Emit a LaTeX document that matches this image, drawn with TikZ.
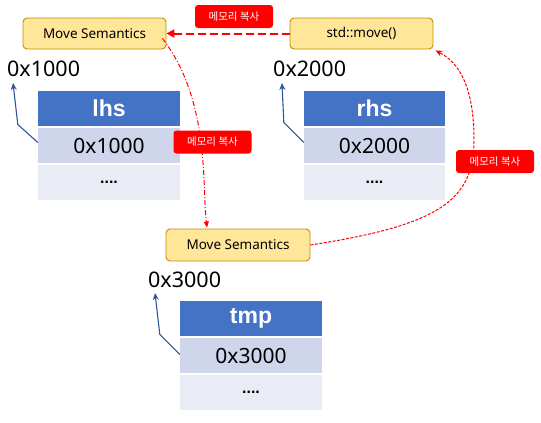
\documentclass[tikz,border=0pt]{standalone}
\usepackage{fontspec}
\setmainfont{Noto Sans}
\newfontfamily\kr{Noto Sans CJK KR}
\newfontfamily\hfont{Liberation Sans}
\usetikzlibrary{arrows.meta}
\definecolor{hdr}{HTML}{4472C4}
\definecolor{rowa}{HTML}{CFD5EA}
\definecolor{rowb}{HTML}{E9EBF5}
\definecolor{ylw}{HTML}{FFE699}
\definecolor{gold}{HTML}{BF9000}
\definecolor{ptrblue}{HTML}{2F5597}
\definecolor{myred}{HTML}{FF0000}
\tikzset{
  semb/.style={draw=gold, fill=ylw, line width=0.9pt, rounded corners=4pt,
    minimum width=143pt, minimum height=31pt, inner sep=0pt, font=\fontsize{13.5}{15}\selectfont},
  redlbl/.style={fill=myred, rounded corners=3pt, minimum width=78pt, minimum height=23pt,
    inner sep=0pt, text=white, font=\kr\fontsize{10.5}{12}\selectfont},
  hdrcell/.style={fill=hdr, minimum width=142pt, minimum height=35pt, inner sep=0pt,
    text=white, font=\hfont\bfseries\fontsize{23}{27}\selectfont},
  cella/.style={fill=rowa, minimum width=142pt, minimum height=35pt, inner sep=0pt,
    font=\fontsize{21}{25}\selectfont},
  cellb/.style={fill=rowb, minimum width=142pt, minimum height=35pt, inner sep=0pt,
    font=\hfont\bfseries\fontsize{16}{20}\selectfont},
  addr/.style={inner sep=0pt, anchor=base west, font=\fontsize{21.5}{25}\selectfont},
  ptr/.style={draw=ptrblue, line width=1.1pt, -{Stealth[length=7pt,width=6pt]}},
  copyline/.style={draw=red, fill=red, line width=2pt, dash pattern=on 8pt off 4pt,
    -{Triangle[length=8pt,width=8pt,fill=red]}},
  curvea/.style={draw=red, line width=1pt, dash pattern=on 5pt off 2pt on 1pt off 2pt,
    -{Triangle[length=6pt,width=5pt]}},
  curveb/.style={draw=red, line width=1pt, dash pattern=on 3pt off 1.5pt,
    -{Stealth[length=7pt,width=6pt]}}
}
\begin{document}
\begin{tikzpicture}[x=1pt,y=-1pt]
\useasboundingbox (0,0) rectangle (541,423);
% move semantics boxes
\node[semb] (msA) at (94.5,33.5) {Move Semantics};
\node[semb] (mv) at (361.5,33.5) {std::move()};
\node[semb, minimum width=144pt, minimum height=32pt] (msB) at (238,245) {Move Semantics};
% lhs
\node[addr] (a1) at (7,76) {0x1000};
\node[hdrcell] (l1) at (109,108.5) {lhs};
\node[cella] (l2) at (109,145.5) {0x1000};
\node[cellb] (l3) at (109,182.5) {....};
% rhs
\node[addr] (a2) at (273,76) {0x2000};
\node[hdrcell, minimum width=141pt] (r1) at (374.5,108.5) {rhs};
\node[cella, minimum width=141pt] (r2) at (374.5,145.5) {0x2000};
\node[cellb, minimum width=141pt] (r3) at (374.5,182.5) {....};
% tmp
\node[addr] (a3) at (148,287) {0x3000};
\node[hdrcell] (t1) at (251,318.5) {tmp};
\node[cella] (t2) at (251,355.5) {0x3000};
\node[cellb] (t3) at (251,392.5) {....};
% pointer arrows
\draw[ptr] ([yshift=3pt]l2.west) -- ++(-20,-18) -- ([xshift=6pt,yshift=-7pt]a1.base west);
\draw[ptr] ([yshift=3pt]r2.west) -- ++(-20,-20) -- ([xshift=9pt,yshift=-7pt]a2.base west);
\draw[ptr] ([yshift=1pt]t2.west) -- ++(-20,-20) -- ([xshift=7pt,yshift=-6pt]a3.base west);
% copy arrows
\draw[copyline] (mv.west) -- (msA.east);
\coordinate (cA) at ([xshift=-4pt,yshift=-5pt]msA.east);
\coordinate (cB) at ([xshift=-31pt,yshift=1pt]msB.north);
\draw[curvea] (cA) .. controls (210,100) and (202,185) .. (cB);
\coordinate (cC) at ([xshift=2pt,yshift=-1pt]mv.south east);
\draw[curveb] (msB.east) .. controls (440,225) and (474,200) .. (474,140) .. controls (474,85) and (458,62) .. (cC);
% red labels
\node[redlbl] (k1) at (234,16.5) {메모리 복사};
\node[redlbl] (k2) at (212.5,142) {메모리 복사};
\node[redlbl] (k3) at (495,161.5) {메모리 복사};
\end{tikzpicture}
\end{document}
